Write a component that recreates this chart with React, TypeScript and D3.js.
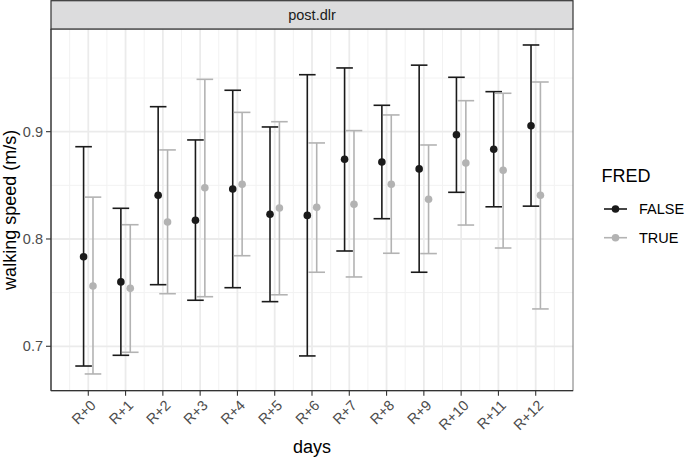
import React from "react";
import * as d3 from "d3";

const categories = ["R+0","R+1","R+2","R+3","R+4","R+5","R+6","R+7","R+8","R+9","R+10","R+11","R+12"];
const groups = ["FALSE", "TRUE"];
const falseMean = [0.7835,0.760,0.8407,0.8174,0.8466,0.823,0.822,0.8743,0.8718,0.8653,0.8972,0.8836,0.9056];
const falseLow  = [0.6816,0.6916,0.7574,0.7429,0.7546,0.7416,0.691,0.7888,0.8189,0.769,0.8435,0.830,0.8306];
const falseHigh = [0.886,0.8286,0.9233,0.8923,0.9386,0.9044,0.9531,0.9594,0.9246,0.962,0.9507,0.9373,0.9808];
const trueMean  = [0.7562,0.754,0.8158,0.8478,0.851,0.8289,0.8295,0.8323,0.851,0.837,0.8708,0.864,0.8407];
const trueLow   = [0.6742,0.6944,0.749,0.7462,0.7844,0.748,0.769,0.7646,0.7867,0.7864,0.813,0.7916,0.7348];
const trueHigh  = [0.839,0.8133,0.883,0.9488,0.918,0.9093,0.8895,0.901,0.9156,0.8876,0.9289,0.9358,0.9463];
const yTicks = [0.7, 0.8, 0.9];
const yMinor = [0.75, 0.85, 0.95];

const colors: Record<string, string> = { FALSE: "#1a1a1a", TRUE: "#b3b3b3" };
const FONT = "'Liberation Sans', Arial, Helvetica, sans-serif";

export default function App() {
  const W = 685, H = 457;
  const left = 51, right = 573, top = 29, bottom = 390.7;
  const x = d3.scalePoint<string>().domain(categories).range([left, right]).padding(1);
  const y = d3.scaleLinear().domain([0.6586, 0.9957]).range([bottom, top]);
  const step = x.step();
  const dodge = 4.7;
  const capW = 8.3;

  const series = [
    { g: "FALSE", mean: falseMean, lo: falseLow, hi: falseHigh, off: -dodge },
    { g: "TRUE", mean: trueMean, lo: trueLow, hi: trueHigh, off: dodge },
  ];

  const minorX = d3.range(-0.5, categories.length, 1).map((i) => (x(categories[0]) as number) + i * step);

  return (
    <svg width={W} height={H} style={{ position: "absolute", left: 0, top: 0, display: "block" }} fontFamily={FONT}>
      <rect x={0} y={0} width={W} height={H} fill="#fff" />
      {/* grid */}
      {yMinor.map((v) => (
        <line key={"ym" + v} x1={left} x2={right} y1={y(v)} y2={y(v)} stroke="#f2f2f2" strokeWidth={1} />
      ))}
      {minorX.map((px, i) => (
        <line key={"xm" + i} x1={px} x2={px} y1={top} y2={bottom} stroke="#f2f2f2" strokeWidth={1} />
      ))}
      {yTicks.map((v) => (
        <line key={"yM" + v} x1={left} x2={right} y1={y(v)} y2={y(v)} stroke="#ebebeb" strokeWidth={1.8} />
      ))}
      {categories.map((c) => (
        <line key={"xM" + c} x1={x(c)} x2={x(c)} y1={top} y2={bottom} stroke="#ebebeb" strokeWidth={1.8} />
      ))}
      {/* error bars and points */}
      {series.map((s) => (
        <g key={s.g} stroke={colors[s.g]} fill={colors[s.g]}>
          {categories.map((c, i) => {
            const cx = (x(c) as number) + s.off;
            return (
              <g key={c}>
                <line x1={cx} x2={cx} y1={y(s.lo[i])} y2={y(s.hi[i])} strokeWidth={1.6} />
                <line x1={cx - capW} x2={cx + capW} y1={y(s.lo[i])} y2={y(s.lo[i])} strokeWidth={1.6} />
                <line x1={cx - capW} x2={cx + capW} y1={y(s.hi[i])} y2={y(s.hi[i])} strokeWidth={1.6} />
                <circle cx={cx} cy={y(s.mean[i])} r={3.8} stroke="none" />
              </g>
            );
          })}
        </g>
      ))}
      {/* panel border */}
      <rect x={left} y={top} width={right - left} height={bottom - top} fill="none" stroke="#777" strokeWidth={1} />
      <line x1={left} x2={left} y1={top} y2={bottom} stroke="#333" strokeWidth={1.2} />
      <line x1={left} x2={right} y1={bottom} y2={bottom} stroke="#333" strokeWidth={1.2} />
      {/* strip */}
      <rect x={left} y={0.7} width={right - left} height={top - 0.7} fill="#dcdcdd" stroke="#333" strokeWidth={1.2} />
      <text x={(left + right) / 2} y={15} textAnchor="middle" dominantBaseline="central" fontSize={14.5} fill="#1a1a1a">post.dlr</text>
      {/* y axis */}
      {yTicks.map((v) => (
        <g key={"yt" + v}>
          <line x1={left - 5} x2={left} y1={y(v)} y2={y(v)} stroke="#333" strokeWidth={1.1} />
          <text x={left - 8} y={y(v)} textAnchor="end" dominantBaseline="central" fontSize={14.5} fill="#4d4d4d">{v.toFixed(1)}</text>
        </g>
      ))}
      <text transform={`translate(10,${(top + bottom) / 2}) rotate(-90)`} textAnchor="middle" dominantBaseline="central" fontSize={18} fill="#000">walking speed (m/s)</text>
      {/* x axis */}
      {categories.map((c) => (
        <g key={"xt" + c}>
          <line x1={x(c)} x2={x(c)} y1={bottom} y2={bottom + 5} stroke="#333" strokeWidth={1.1} />
          <text transform={`translate(${(x(c) as number) + 5},${bottom + 12}) rotate(-45)`} textAnchor="end" dominantBaseline="central" fontSize={14.5} fill="#4d4d4d">{c}</text>
        </g>
      ))}
      <text x={(left + right) / 2} y={447} textAnchor="middle" dominantBaseline="central" fontSize={18} fill="#000">days</text>
      {/* legend */}
      <text x={601.5} y={176} dominantBaseline="central" fontSize={18} fill="#000">FRED</text>
      {groups.map((g, i) => {
        const ly = 209 + i * 28.7;
        return (
          <g key={"lg" + g}>
            <line x1={604} x2={627} y1={ly} y2={ly} stroke={colors[g]} strokeWidth={1.6} />
            <circle cx={615.5} cy={ly} r={3.8} fill={colors[g]} />
            <text x={639} y={ly} dominantBaseline="central" fontSize={14.5} fill="#000">{g}</text>
          </g>
        );
      })}
    </svg>
  );
}
